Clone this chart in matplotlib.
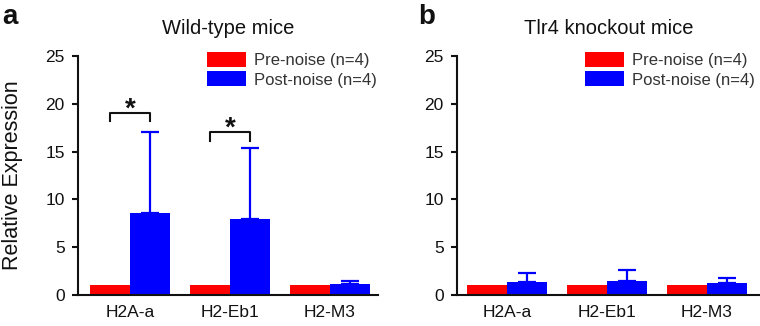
import numpy as np
import matplotlib
matplotlib.use("Agg")
import matplotlib.pyplot as plt

plt.rcParams['font.family'] = ['Liberation Sans', 'DejaVu Sans']

genes = ['H2A-a', 'H2-Eb1', 'H2-M3']
series_labels = ['Pre-noise (n=4)', 'Post-noise (n=4)']

# wild-type mice
wt_pre = [1.0, 1.0, 1.0]
wt_post = [8.55, 7.95, 1.1]
wt_post_err = [8.45, 7.4, 0.35]

# Tlr4 knockout mice
ko_pre = [1.0, 1.0, 1.0]
ko_post = [1.37, 1.47, 1.3]
ko_post_err = [0.91, 1.16, 0.52]

# significance brackets (wild-type only): gene index, bracket height
wt_sig_genes = [0, 1]
wt_sig_heights = [19.0, 17.0]

RED = '#ff0000'
BLUE = '#0000ff'
TXT = '#111111'

fig = plt.figure(figsize=(7.6, 3.26), dpi=100)
ax_a = fig.add_axes([78 / 760, 31 / 326, 300 / 760, 239 / 326])
ax_b = fig.add_axes([457 / 760, 31 / 326, 303 / 760, 239 / 326])

width = 0.4


def draw_panel(ax, pre, post, post_err, title, xlim, leg_x):
    x = np.arange(len(genes))
    ax.bar(x - width / 2, pre, width, color=RED, label=series_labels[0])
    ax.bar(x + width / 2, post, width, color=BLUE, label=series_labels[1])
    ax.errorbar(x + width / 2, post, yerr=[np.zeros(len(post)), post_err],
                fmt='none', ecolor=BLUE, elinewidth=1.6, capsize=6.5,
                capthick=1.6)
    ax.set_ylim(0, 25)
    ax.set_xlim(*xlim)
    ax.set_yticks([0, 5, 10, 15, 20, 25])
    ax.set_xticks(x)
    ax.set_xticklabels(genes)
    for s in ['top', 'right']:
        ax.spines[s].set_visible(False)
    for s in ['left', 'bottom']:
        ax.spines[s].set_linewidth(1.5)
        ax.spines[s].set_color('#111111')
    ax.tick_params(axis='y', direction='out', length=4.5, width=1.5,
                   pad=5, labelsize=12.5, colors=TXT)
    ax.tick_params(axis='x', length=0, pad=7, labelsize=12.5, colors=TXT)
    ax.set_title(title, fontsize=14.5, color=TXT, pad=16)
    ax.legend(loc='upper left', bbox_to_anchor=(leg_x, 1.017),
              frameon=False, fontsize=12, borderpad=0, borderaxespad=0,
              handlelength=2.33, handleheight=1.0, labelspacing=0.2,
              handletextpad=0.48, labelcolor='#333333')


draw_panel(ax_a, wt_pre, wt_post, wt_post_err, 'Wild-type mice',
           (-0.52, 2.48), 0.43)
draw_panel(ax_b, ko_pre, ko_post, ko_post_err, 'Tlr4 knockout mice',
           (-0.5, 2.53), 0.422)

ax_a.set_ylabel('Relative Expression', fontsize=15.5, color=TXT, labelpad=16)

# significance brackets
for g, h in zip(wt_sig_genes, wt_sig_heights):
    x0, x1 = g - width / 2, g + width / 2
    ax_a.plot([x0, x0, x1, x1], [h - 0.85, h, h, h - 0.85],
              color='#111111', lw=1.5, clip_on=False)
    ax_a.text(g, h - 0.95, '*', ha='center', va='bottom', fontsize=20,
              fontweight='bold', color='#111111')

fig.text(2 / 760, 1 - 24 / 326, 'a', fontsize=20, fontweight='bold',
         color='#111111', va='baseline')
fig.text(418 / 760, 1 - 24 / 326, 'b', fontsize=20, fontweight='bold',
         color='#111111', va='baseline')

fig.savefig('out.png', dpi=100)
